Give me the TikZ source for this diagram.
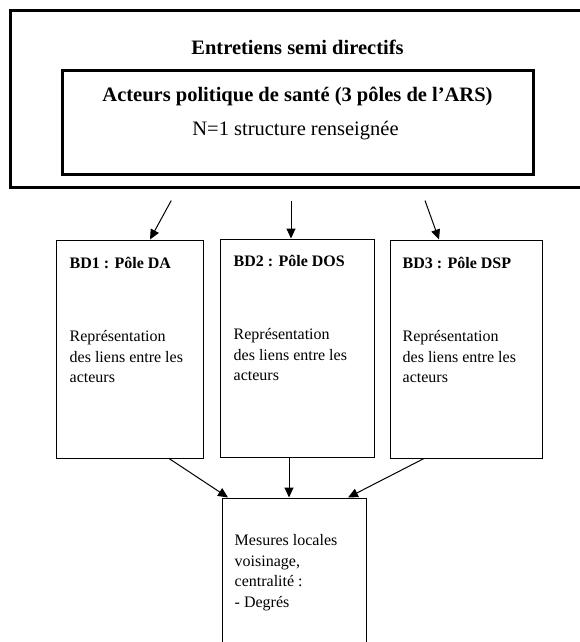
\documentclass[tikz,border=0pt]{standalone}
\usepackage{fontspec}
\setmainfont{Liberation Serif}
\usepackage{tikz}
\usetikzlibrary{arrows.meta, positioning}
\tikzstyle{frame}  = [rectangle, draw=black, line width=3pt, inner sep=0pt]
\tikzstyle{block}  = [rectangle, draw=black, line width=1pt, inner sep=0pt,
                      minimum height=218pt]
\tikzstyle{head}   = [inner sep=0pt, font=\fontsize{20.5}{24}\selectfont]
\tikzstyle{label}  = [anchor=west, inner sep=0pt,
                      font=\bfseries\fontsize{16}{20.5}\selectfont]
\tikzstyle{body}   = [anchor=north west, inner sep=0pt, align=left,
                      font=\fontsize{16}{20.5}\selectfont]
\tikzstyle{arrow}  = [line width=1pt, -{Triangle[length=10pt, width=9pt]}]

\begin{document}
\begin{tikzpicture}[x=1pt, y=-1pt]
    \useasboundingbox (0,0) rectangle (579,642);

    % ── Interviews frame ────────────────────────────────────────────────────
    \node (entretiens) [frame, minimum width=580pt, minimum height=176.5pt]
          at (300.25,98.75) {};
    \node (titre) [head, font=\bfseries\fontsize{20.5}{24}\selectfont]
          at (297.5,47) {Entretiens semi directifs};
    \node (acteurs) [frame, minimum width=471pt, minimum height=104pt]
          at (297.5,122) {};
    \node (sante) [head, font=\bfseries\fontsize{20.5}{24}\selectfont]
          at (297.5,96) {Acteurs politique de santé (3 pôles de l’ARS)};
    \node (effectif) [head] at (295.5,131) {N=1 structure renseignée};

    % ── Databases ───────────────────────────────────────────────────────────
    \node (da)  [block, minimum width=147pt] at (129.5,349) {};
    \node (dos) [block, minimum width=154pt] at (297,348)   {};
    \node (dsp) [block, minimum width=152pt] at (466,349)   {};

    \node (daT)  [label] at ([shift={(14pt,-23pt)}]da.north west)  {BD1 : Pôle DA};
    \node (dosT) [label] at ([shift={(14pt,-22pt)}]dos.north west) {BD2 : Pôle DOS};
    \node (dspT) [label] at ([shift={(13pt,-23pt)}]dsp.north west) {BD3 : Pôle DSP};

    \node (daB)  [body] at ([shift={(14pt,-91pt)}]da.north west)
          {Représentation\\des liens entre les\\acteurs};
    \node (dosB) [body] at ([shift={(14pt,-90pt)}]dos.north west)
          {Représentation\\des liens entre les\\acteurs};
    \node (dspB) [body] at ([shift={(13pt,-91pt)}]dsp.north west)
          {Représentation\\des liens entre les\\acteurs};

    % ── Measures ────────────────────────────────────────────────────────────
    \node (mesures) [block, minimum width=144pt, minimum height=162pt]
          at (294,579) {};
    \node (mesuresB) [body] at ([shift={(13pt,-37pt)}]mesures.north west)
          {Mesures locales\\voisinage,\\centralité :\\- Degrés};

    % ── Arrows down ─────────────────────────────────────────────────────────
    \draw [arrow] ([shift={(-129pt,-12pt)}]entretiens.south) -- ([xshift=20.5pt]da.north);
    \draw [arrow] ([shift={(-9.25pt,-12pt)}]entretiens.south) -- ([xshift=-6pt]dos.north);
    \draw [arrow] ([shift={(124.75pt,-12pt)}]entretiens.south) -- ([xshift=-27pt]dsp.north);

    % ── Arrows to measures ──────────────────────────────────────────────────
    \draw [arrow] ([xshift=39.5pt]da.south)  -- ([xshift=-66pt]mesures.north);
    \draw [arrow] ([xshift=-8pt]dos.south)   -- ([xshift=-5pt]mesures.north);
    \draw [arrow] ([xshift=-42pt]dsp.south)  -- ([xshift=54pt]mesures.north);

\end{tikzpicture}
\end{document}
